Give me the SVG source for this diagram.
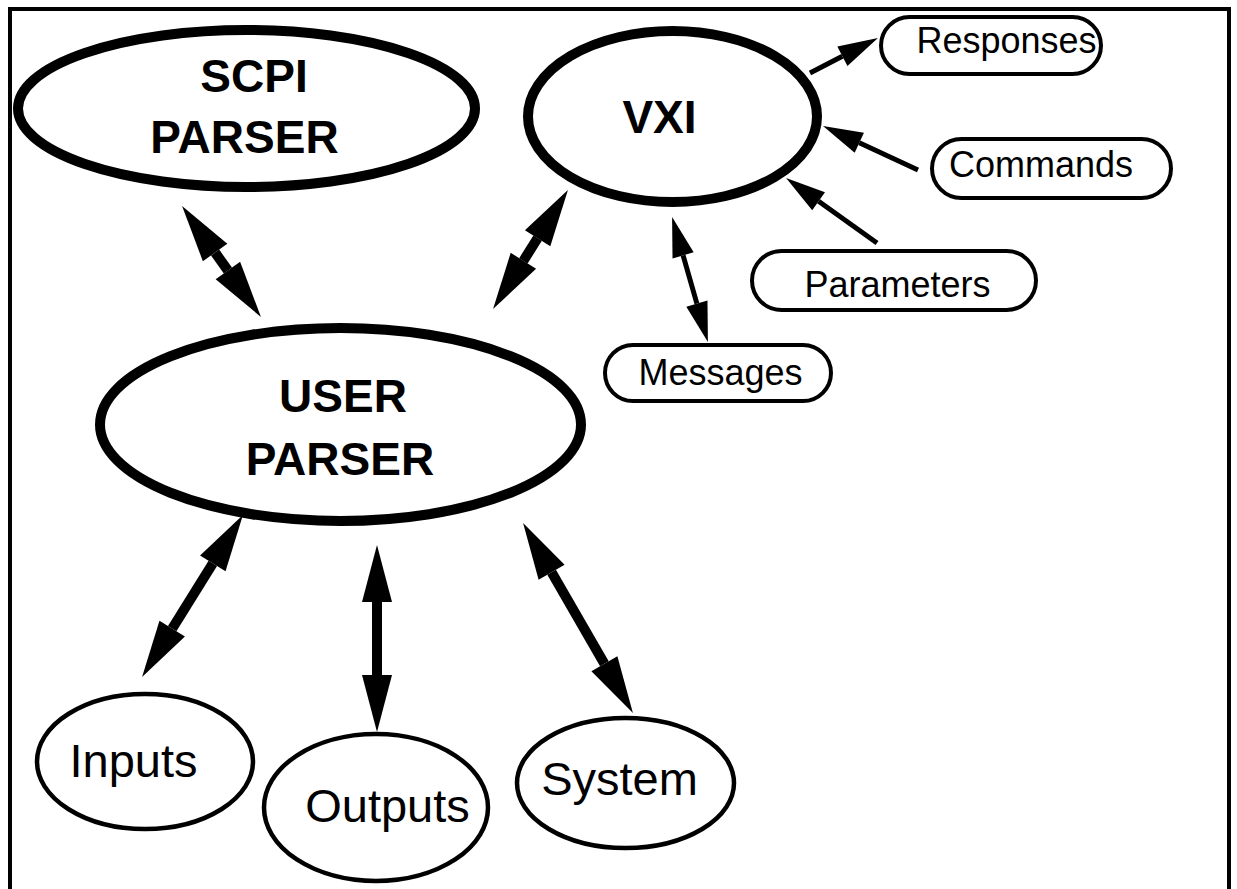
<svg xmlns="http://www.w3.org/2000/svg" width="1237" height="889" viewBox="0 0 1237 889">
<style>
.big{fill:#fff;stroke:#000;stroke-width:10}
.sm{fill:#fff;stroke:#000;stroke-width:4.5}
.bub{fill:#fff;stroke:#000;stroke-width:4}
.tb{font-family:"Liberation Sans",Arial,sans-serif;font-weight:bold;font-size:46px;text-anchor:middle;fill:#000}
.tn{font-family:"Liberation Sans",Arial,sans-serif;font-size:47px;text-anchor:middle;fill:#000}
.ts{font-family:"Liberation Sans",Arial,sans-serif;font-size:36px;text-anchor:middle;fill:#000}
.ab{stroke:#000;stroke-width:10;fill:none;marker-start:url(#hb);marker-end:url(#hb)}
.as{stroke:#000;stroke-width:5;fill:none}
</style>
<defs>
<marker id="hb" markerUnits="userSpaceOnUse" markerWidth="58" markerHeight="32" refX="0" refY="15" orient="auto-start-reverse" overflow="visible">
<path d="M0,0 L57,15 L0,30 z" fill="#000"/>
</marker>
<marker id="hs" markerUnits="userSpaceOnUse" markerWidth="41" markerHeight="24" refX="0" refY="11" orient="auto-start-reverse" overflow="visible">
<path d="M0,0 L40,11 L0,22 z" fill="#000"/>
</marker>
</defs>
<rect x="10" y="9" width="1219" height="900" fill="none" stroke="#000" stroke-width="4"/>
<g id="connectors">
<line class="ab" x1="215.1" y1="252.5" x2="227.9" y2="270.5"/>
<line class="ab" x1="537.6" y1="238.2" x2="523.4" y2="260.8"/>
<line class="ab" x1="212.8" y1="563.4" x2="172.2" y2="628.6"/>
<line class="ab" x1="377" y1="602" x2="377" y2="675"/>
<line class="ab" x1="551.6" y1="572.3" x2="604.4" y2="663.7"/>
<line class="as" x1="810" y1="73" x2="842.4" y2="56.3" marker-end="url(#hs)"/>
<line class="as" x1="918" y1="170" x2="859.3" y2="142.8" marker-end="url(#hs)"/>
<line class="as" x1="877" y1="243" x2="818.6" y2="201.3" marker-end="url(#hs)"/>
<line class="as" x1="683.1" y1="255.4" x2="696.9" y2="303.6" marker-start="url(#hs)" marker-end="url(#hs)"/>
</g>
<g id="scpi">
<ellipse class="big" cx="246.5" cy="108.5" rx="228.5" ry="78.5"/>
<text class="tb" x="254" y="92">SCPI</text>
<text class="tb" x="244.5" y="153">PARSER</text>
</g>
<g id="vxi">
<ellipse class="big" cx="672.5" cy="116.5" rx="144.5" ry="85.5"/>
<text class="tb" x="659.5" y="133">VXI</text>
</g>
<g id="user">
<ellipse class="big" cx="340.5" cy="424.5" rx="240.5" ry="96.5"/>
<text class="tb" x="343" y="412">USER</text>
<text class="tb" x="340" y="475">PARSER</text>
</g>
<g id="responses">
<rect class="bub" x="881" y="17" width="220" height="57" rx="28.5"/>
<text class="ts" x="1006.5" y="53">Responses</text>
</g>
<g id="commands">
<rect class="bub" x="932" y="139" width="239" height="59" rx="29.5"/>
<text class="ts" x="1041" y="177">Commands</text>
</g>
<g id="parameters">
<rect class="bub" x="752" y="251" width="284" height="59" rx="29.5"/>
<text class="ts" x="897.5" y="297">Parameters</text>
</g>
<g id="messages">
<rect class="bub" x="605" y="345" width="226" height="56" rx="28"/>
<text class="ts" x="720.5" y="385">Messages</text>
</g>
<g id="inputs">
<ellipse class="sm" cx="145" cy="761.5" rx="108" ry="67.5"/>
<text class="tn" x="133.5" y="777">Inputs</text>
</g>
<g id="outputs">
<ellipse class="sm" cx="376" cy="807.5" rx="112" ry="73.5"/>
<text class="tn" x="387.5" y="822">Outputs</text>
</g>
<g id="system">
<ellipse class="sm" cx="625.5" cy="783" rx="108.5" ry="65"/>
<text class="tn" x="619.5" y="795">System</text>
</g>
</svg>
